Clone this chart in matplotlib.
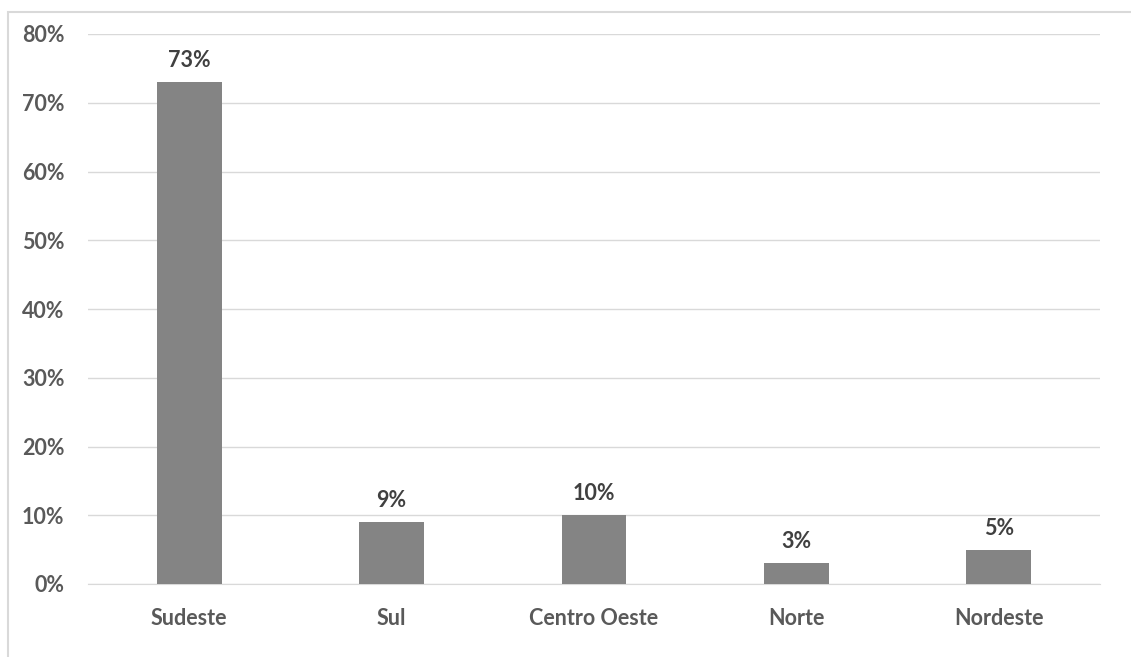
import matplotlib.pyplot as plt
from matplotlib.patches import Rectangle
from matplotlib.ticker import PercentFormatter

regions = ["Sudeste", "Sul", "Centro Oeste", "Norte", "Nordeste"]
shares = [73, 9, 10, 3, 5]
y_ticks = [0, 10, 20, 30, 40, 50, 60, 70, 80]

text_color = "#595959"
bar_color = "#848484"
grid_color = "#d9d9d9"

plt.rcParams["font.family"] = ["Lato", "DejaVu Sans"]
plt.rcParams["font.weight"] = "bold"

fig = plt.figure(figsize=(11.31, 6.57), dpi=100)
ax = fig.add_axes([88 / 1131, 1 - 584 / 657, (1100 - 88) / 1131, (584 - 34) / 657])

# outer chart frame, only the left and top edges fall inside the picture
fig.patches.append(Rectangle((8 / 1131, -0.1), 1.2, 1.1 - 12 / 657,
                             transform=fig.transFigure, fill=False,
                             edgecolor=grid_color, linewidth=1.5))

x = range(len(regions))
bars = ax.bar(x, shares, width=0.32, color=bar_color, zorder=3)
for rect, val in zip(bars, shares):
    ax.annotate(f"{val}%", (rect.get_x() + rect.get_width() / 2, val),
                xytext=(0, 8), textcoords="offset points", ha="center", va="bottom",
                fontsize=15.5, fontweight="bold", color="#404040")

ax.set_xlim(-0.5, len(regions) - 0.5)
ax.set_ylim(0, 80)
ax.set_yticks(y_ticks)
ax.yaxis.set_major_formatter(PercentFormatter(decimals=0))
ax.set_xticks(list(x))
ax.set_xticklabels(regions)
ax.grid(axis="y", color=grid_color, linewidth=1, zorder=0)
ax.tick_params(length=0, labelsize=15.5, labelcolor=text_color)
ax.tick_params(axis="y", pad=17)
ax.tick_params(axis="x", pad=17)
for side in ["top", "right", "left"]:
    ax.spines[side].set_visible(False)
ax.spines["bottom"].set_color(grid_color)

fig.savefig("out.png", dpi=100)
